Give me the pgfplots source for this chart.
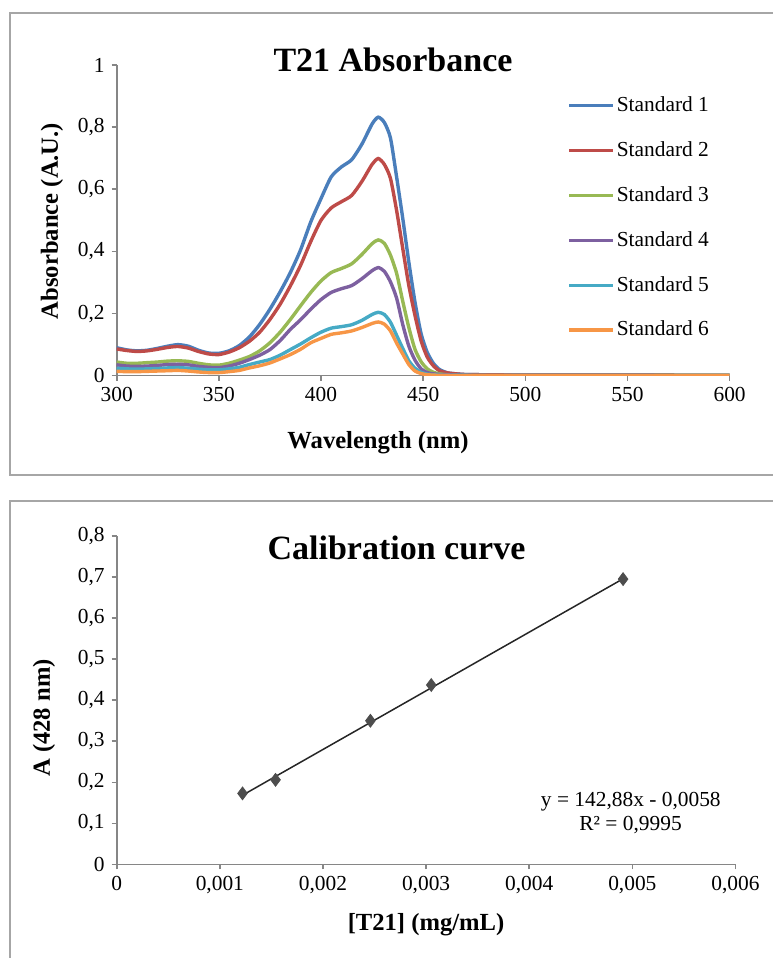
\documentclass[border=0pt]{standalone}
\usepackage{fontspec}
\setmainfont{Liberation Serif}
\usepackage{pgfplots}
\pgfplotsset{compat=1.18}
\usepackage{pgfplotstable}

\definecolor{sone}{RGB}{74,126,187}
\definecolor{stwo}{RGB}{190,75,72}
\definecolor{sthree}{RGB}{152,185,84}
\definecolor{sfour}{RGB}{125,96,160}
\definecolor{sfive}{RGB}{70,170,197}
\definecolor{ssix}{RGB}{247,150,70}
\definecolor{axgray}{RGB}{134,134,134}
\definecolor{framegray}{RGB}{166,166,166}
\definecolor{markgray}{RGB}{77,77,77}

% absorbance spectra, standards 1-6
\pgfplotstableread{
wl  s1    s2    s3    s4    s5    s6
300 0.090 0.086 0.044 0.035 0.024 0.014
305 0.083 0.081 0.040 0.031 0.022 0.013
310 0.080 0.078 0.040 0.030 0.021 0.013
315 0.082 0.080 0.042 0.031 0.022 0.014
320 0.088 0.085 0.044 0.033 0.023 0.015
325 0.095 0.091 0.047 0.036 0.025 0.016
330 0.100 0.094 0.048 0.037 0.026 0.017
335 0.095 0.089 0.046 0.035 0.024 0.015
340 0.082 0.078 0.040 0.030 0.021 0.012
345 0.073 0.070 0.035 0.027 0.019 0.010
350 0.072 0.068 0.034 0.026 0.019 0.010
355 0.080 0.076 0.040 0.031 0.022 0.013
360 0.097 0.090 0.050 0.040 0.027 0.017
365 0.125 0.111 0.062 0.052 0.036 0.025
370 0.165 0.140 0.080 0.066 0.044 0.032
375 0.214 0.181 0.106 0.084 0.052 0.041
380 0.270 0.230 0.140 0.113 0.066 0.054
385 0.332 0.289 0.181 0.149 0.084 0.068
390 0.405 0.355 0.225 0.180 0.102 0.085
395 0.495 0.432 0.268 0.214 0.122 0.106
400 0.570 0.500 0.305 0.245 0.140 0.120
405 0.640 0.540 0.332 0.268 0.153 0.133
410 0.672 0.560 0.345 0.280 0.158 0.138
415 0.695 0.580 0.360 0.290 0.164 0.144
420 0.745 0.625 0.390 0.312 0.178 0.155
425 0.810 0.680 0.425 0.338 0.197 0.168
428 0.832 0.699 0.437 0.348 0.204 0.173
431 0.815 0.680 0.426 0.336 0.197 0.166
434 0.765 0.635 0.388 0.302 0.172 0.144
437 0.640 0.532 0.330 0.250 0.130 0.105
440 0.507 0.410 0.240 0.165 0.088 0.070
443 0.365 0.290 0.155 0.095 0.048 0.036
446 0.237 0.194 0.085 0.050 0.024 0.015
449 0.135 0.112 0.045 0.022 0.011 0.007
452 0.075 0.060 0.022 0.010 0.005 0.003
455 0.040 0.032 0.011 0.006 0.003 0.002
458 0.020 0.016 0.006 0.004 0.002 0.001
462 0.009 0.009 0.003 0.003 0.001 0.001
466 0.006 0.006 0.002 0.002 0.001 0.000
470 0.004 0.004 0.002 0.002 0.001 0.000
480 0.003 0.003 0.001 0.001 0.000 0.000
500 0.002 0.002 0.001 0.001 0.000 0.000
550 0.002 0.002 0.001 0.001 0.000 0.000
600 0.001 0.001 0.001 0.000 0.000 0.000
}\spectra

% calibration points (428 nm)
\pgfplotstableread{
c       A
0.00122 0.173
0.00154 0.206
0.00246 0.350
0.00305 0.437
0.00491 0.695
}\calib

\pgfplotsset{
  excel/.style={
    scale only axis,
    axis x line*=bottom, axis y line*=left,
    tick align=outside, major tick length=2.5pt,
    axis line style={draw=axgray, line width=0.8pt},
    every tick/.style={draw=axgray, line width=0.8pt},
    tick label style={font=\fontsize{10.7}{12}\selectfont, text=black},
  },
  spec/.style={line width=1.7pt, smooth, tension=0.4, no marks},
}

\begin{document}
\begin{tikzpicture}
\useasboundingbox (0,0) rectangle (386pt,479pt);
\draw[line width=1pt, framegray] (392pt,472.5pt) -- (5pt,472.5pt) -- (5pt,241.5pt) -- (392pt,241.5pt);
\draw[line width=1pt, framegray] (392pt,228.6pt) -- (5pt,228.6pt) -- (5pt,-5pt);

\begin{axis}[excel,
  at={(58.35pt,291.15pt)}, anchor=south west,
  width=306.45pt, height=155.35pt,
  xmin=300, xmax=600, ymin=0, ymax=1,
  xtick={300,350,400,450,500,550,600},
  xticklabels={300,350,400,450,500,550,600},
  ytick={0,0.2,0.4,0.6,0.8,1},
  yticklabels={0,{0,2},{0,4},{0,6},{0,8},1},
  legend style={at={(0.735,0.905)}, anchor=north west, draw=none, fill=none,
    font=\fontsize{10.7}{12}\selectfont, row sep=11.5pt, inner sep=0pt,
    nodes={inner sep=1pt}},
  legend cell align=left,
  legend image code/.code={\draw[#1, line width=1.6pt] (0pt,0pt) -- (22pt,0pt);},
]
\addplot[spec, sone]   table[x=wl, y=s1] {\spectra};
\addplot[spec, stwo]   table[x=wl, y=s2] {\spectra};
\addplot[spec, sthree] table[x=wl, y=s3] {\spectra};
\addplot[spec, sfour]  table[x=wl, y=s4] {\spectra};
\addplot[spec, sfive]  table[x=wl, y=s5] {\spectra};
\addplot[spec, ssix]   table[x=wl, y=s6] {\spectra};
\legend{Standard 1, Standard 2, Standard 3, Standard 4, Standard 5, Standard 6}
\end{axis}

\begin{axis}[excel,
  at={(58.35pt,46.8pt)}, anchor=south west,
  width=309.4pt, height=164.2pt,
  xmin=0, xmax=0.006, ymin=0, ymax=0.8,
  xtick={0,0.001,0.002,0.003,0.004,0.005,0.006},
  xticklabels={0,{0,001},{0,002},{0,003},{0,004},{0,005},{0,006}},
  ytick={0,0.1,0.2,0.3,0.4,0.5,0.6,0.7,0.8},
  yticklabels={0,{0,1},{0,2},{0,3},{0,4},{0,5},{0,6},{0,7},{0,8}},
  scaled x ticks=false,
]
% linear trendline y = 142.88x - 0.0058
\addplot[line width=0.75pt, black!85, no marks] coordinates {(0.00122,0.1685) (0.00491,0.6958)};
\addplot[only marks, mark=diamond*, mark size=3.2pt, markgray,
  mark options={fill=markgray, draw=markgray}] table[x=c, y=A] {\calib};
\end{axis}

\node[font=\fontsize{17}{20}\selectfont\bfseries] at (196.5pt,449pt) {T21 Absorbance};
\node[font=\fontsize{12.3}{14}\selectfont\bfseries] at (189pt,257.5pt) {Wavelength (nm)};
\node[font=\fontsize{12.3}{14}\selectfont\bfseries, rotate=90] at (26pt,368.5pt) {Absorbance (A.U.)};

\node[font=\fontsize{17}{20}\selectfont\bfseries] at (198.25pt,205pt) {Calibration curve};
\node[font=\fontsize{12.3}{14}\selectfont\bfseries] at (213pt,16.5pt) {[T21] (mg/mL)};
\node[font=\fontsize{12.3}{14}\selectfont\bfseries, rotate=90] at (22pt,120pt) {A (428 nm)};
\node[font=\fontsize{10.7}{12}\selectfont] at (315.4pt,78.2pt) {y = 142,88x - 0,0058};
\node[font=\fontsize{10.7}{12}\selectfont] at (315.3pt,66.5pt) {R² = 0,9995};
\end{tikzpicture}
\end{document}
